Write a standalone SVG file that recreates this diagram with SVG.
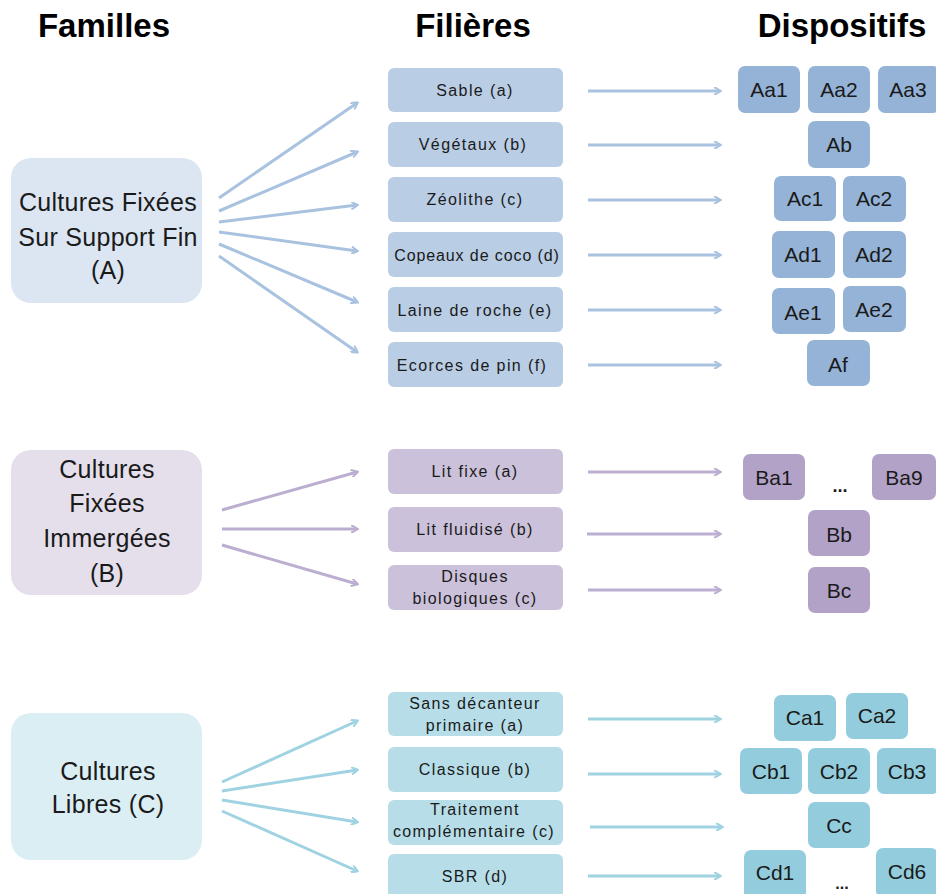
<svg xmlns="http://www.w3.org/2000/svg" width="936" height="894" viewBox="0 0 936 894">
<style>
text{font-family:"Liberation Sans",Arial,sans-serif;fill:#1a1a1a;text-anchor:middle}
.h{font-size:33px;font-weight:bold;fill:#000}
.fam{font-size:25px;letter-spacing:0.3px}
.fil{font-size:16px;letter-spacing:1.4px}
.dis{font-size:21px}
.fA{fill:#dce6f2}.fB{fill:#e5dfec}.fC{fill:#dbeef4}
.lA{fill:#b9cde5}.lB{fill:#ccc1da}.lC{fill:#b7dee8}
.dA{fill:#95b3d7}.dB{fill:#b3a2c7}.dC{fill:#93cddd}
.aA{stroke:#a9c2e0;stroke-width:3;fill:none;marker-end:url(#mA)}
.aB{stroke:#bcaed0;stroke-width:3;fill:none;marker-end:url(#mB)}
.aC{stroke:#9fd3e2;stroke-width:3;fill:none;marker-end:url(#mC)}
</style>
<defs>
<marker id="mA" markerWidth="8" markerHeight="8" refX="6" refY="4" orient="auto" markerUnits="userSpaceOnUse" viewBox="0 0 8 8"><path d="M0,0 L7,4 L0,8" fill="none" stroke="#a9c2e0" stroke-width="2"/></marker>
<marker id="mB" markerWidth="8" markerHeight="8" refX="6" refY="4" orient="auto" markerUnits="userSpaceOnUse" viewBox="0 0 8 8"><path d="M0,0 L7,4 L0,8" fill="none" stroke="#bcaed0" stroke-width="2"/></marker>
<marker id="mC" markerWidth="8" markerHeight="8" refX="6" refY="4" orient="auto" markerUnits="userSpaceOnUse" viewBox="0 0 8 8"><path d="M0,0 L7,4 L0,8" fill="none" stroke="#9fd3e2" stroke-width="2"/></marker>
</defs>
<rect width="936" height="894" fill="#fff"/>
<g id="headers">
<text class="h" x="104" y="37">Familles</text>
<text class="h" x="473" y="37">Filières</text>
<text class="h" x="842" y="37">Dispositifs</text>
</g>
<g id="connectors">
<line class="aA" x1="219" y1="198" x2="357" y2="103"/>
<line class="aA" x1="219" y1="211" x2="357" y2="152"/>
<line class="aA" x1="219" y1="222" x2="357" y2="205"/>
<line class="aA" x1="219" y1="232" x2="357" y2="251"/>
<line class="aA" x1="219" y1="244" x2="357" y2="302"/>
<line class="aA" x1="219" y1="256" x2="357" y2="352"/>
<line class="aA" x1="588" y1="91" x2="720" y2="91"/>
<line class="aA" x1="588" y1="145" x2="720" y2="145"/>
<line class="aA" x1="588" y1="200" x2="720" y2="200"/>
<line class="aA" x1="588" y1="255" x2="720" y2="255"/>
<line class="aA" x1="588" y1="310" x2="720" y2="310"/>
<line class="aA" x1="588" y1="365" x2="720" y2="365"/>
<line class="aB" x1="222" y1="510" x2="357" y2="472"/>
<line class="aB" x1="222" y1="529" x2="357" y2="529"/>
<line class="aB" x1="222" y1="545" x2="357" y2="584"/>
<line class="aB" x1="588" y1="472" x2="720" y2="472"/>
<line class="aB" x1="587" y1="534" x2="720" y2="534"/>
<line class="aB" x1="588" y1="590" x2="720" y2="590"/>
<line class="aC" x1="222" y1="782" x2="357" y2="721"/>
<line class="aC" x1="222" y1="791" x2="357" y2="770"/>
<line class="aC" x1="222" y1="800" x2="357" y2="822"/>
<line class="aC" x1="222" y1="811" x2="357" y2="871"/>
<line class="aC" x1="588" y1="719" x2="720" y2="719"/>
<line class="aC" x1="588" y1="774" x2="720" y2="774"/>
<line class="aC" x1="590" y1="827" x2="722" y2="827"/>
<line class="aC" x1="588" y1="876" x2="720" y2="876"/>
</g>
<g id="famA"><rect class="fA" x="11" y="158" width="191" height="145" rx="20"/>
<text class="fam" x="108" y="211">Cultures Fixées</text><text class="fam" x="108" y="246">Sur Support Fin</text><text class="fam" x="108" y="279">(A)</text></g>
<g id="famB"><rect class="fB" x="11" y="450" width="191" height="145" rx="20"/>
<text class="fam" x="107" y="478">Cultures</text><text class="fam" x="107" y="512">Fixées</text><text class="fam" x="107" y="547">Immergées</text><text class="fam" x="107" y="582">(B)</text></g>
<g id="famC"><rect class="fC" x="11" y="713" width="191" height="147" rx="20"/>
<text class="fam" x="108" y="780">Cultures</text><text class="fam" x="108" y="813">Libres (C)</text></g>

<g id="filAa"><rect class="lA" x="388" y="68" width="175" height="44" rx="6"/><text class="fil" x="475" y="96">Sable (a)</text></g>
<g id="filAb"><rect class="lA" x="388" y="122" width="175" height="45" rx="6"/><text class="fil" x="473" y="150">Végétaux (b)</text></g>
<g id="filAc"><rect class="lA" x="388" y="177" width="175" height="45" rx="6"/><text class="fil" x="475" y="205">Zéolithe (c)</text></g>
<g id="filAd"><rect class="lA" x="388" y="232" width="175" height="45" rx="6"/><text class="fil" x="477" y="261" style="letter-spacing:0.9px">Copeaux de coco (d)</text></g>
<g id="filAe"><rect class="lA" x="388" y="287" width="175" height="45" rx="6"/><text class="fil" x="475" y="316">Laine de roche (e)</text></g>
<g id="filAf"><rect class="lA" x="388" y="342" width="175" height="45" rx="6"/><text class="fil" x="472" y="371">Ecorces de pin (f)</text></g>

<g id="filBa"><rect class="lB" x="388" y="449" width="175" height="45" rx="6"/><text class="fil" x="475" y="477">Lit fixe (a)</text></g>
<g id="filBb"><rect class="lB" x="388" y="507" width="175" height="45" rx="6"/><text class="fil" x="475" y="535">Lit fluidisé (b)</text></g>
<g id="filBc"><rect class="lB" x="388" y="565" width="175" height="45" rx="6"/><text class="fil" x="475" y="582">Disques</text><text class="fil" x="475" y="604">biologiques (c)</text></g>

<g id="filCa"><rect class="lC" x="388" y="692" width="175" height="44" rx="6"/><text class="fil" x="475" y="709">Sans décanteur</text><text class="fil" x="475" y="731">primaire (a)</text></g>
<g id="filCb"><rect class="lC" x="388" y="747" width="175" height="45" rx="6"/><text class="fil" x="475" y="775">Classique (b)</text></g>
<g id="filCc"><rect class="lC" x="388" y="800" width="175" height="45" rx="6"/><text class="fil" x="475" y="815">Traitement</text><text class="fil" x="474" y="837">complémentaire (c)</text></g>
<g id="filCd"><rect class="lC" x="388" y="854" width="175" height="44" rx="6"/><text class="fil" x="475" y="882">SBR  (d)</text></g>

<g id="Aa1"><rect class="dA" x="738" y="66" width="62" height="47" rx="7"/><text class="dis" x="769" y="97">Aa1</text></g>
<g id="Aa2"><rect class="dA" x="808" y="66" width="62" height="47" rx="7"/><text class="dis" x="839" y="97">Aa2</text></g>
<g id="Aa3"><rect class="dA" x="878" y="66" width="62" height="47" rx="7"/><text class="dis" x="908" y="97">Aa3</text></g>
<g id="Ab"><rect class="dA" x="808" y="121" width="62" height="47" rx="7"/><text class="dis" x="839" y="152">Ab</text></g>
<g id="Ac1"><rect class="dA" x="774" y="176" width="62" height="45" rx="7"/><text class="dis" x="805" y="206">Ac1</text></g>
<g id="Ac2"><rect class="dA" x="843" y="176" width="63" height="46" rx="7"/><text class="dis" x="874" y="206">Ac2</text></g>
<g id="Ad1"><rect class="dA" x="772" y="231" width="63" height="47" rx="7"/><text class="dis" x="803" y="262">Ad1</text></g>
<g id="Ad2"><rect class="dA" x="843" y="231" width="63" height="47" rx="7"/><text class="dis" x="874" y="262">Ad2</text></g>
<g id="Ae1"><rect class="dA" x="772" y="288" width="63" height="46" rx="7"/><text class="dis" x="803" y="320">Ae1</text></g>
<g id="Ae2"><rect class="dA" x="843" y="286" width="63" height="46" rx="7"/><text class="dis" x="874" y="317">Ae2</text></g>
<g id="Af"><rect class="dA" x="807" y="340" width="63" height="46" rx="7"/><text class="dis" x="838" y="372">Af</text></g>

<g id="Ba1"><rect class="dB" x="743" y="454" width="62" height="46" rx="7"/><text class="dis" x="774" y="485">Ba1</text></g>
<g id="Badots"><text class="dis" x="840" y="492" style="font-size:18px;font-weight:bold">...</text></g>
<g id="Ba9"><rect class="dB" x="872" y="454" width="64" height="46" rx="7"/><text class="dis" x="904" y="485">Ba9</text></g>
<g id="Bb"><rect class="dB" x="808" y="510" width="62" height="46" rx="7"/><text class="dis" x="839" y="542">Bb</text></g>
<g id="Bc"><rect class="dB" x="808" y="567" width="62" height="46" rx="7"/><text class="dis" x="839" y="598">Bc</text></g>

<g id="Ca1"><rect class="dC" x="774" y="695" width="62" height="46" rx="7"/><text class="dis" x="805" y="725">Ca1</text></g>
<g id="Ca2"><rect class="dC" x="846" y="693" width="62" height="46" rx="7"/><text class="dis" x="877" y="723">Ca2</text></g>
<g id="Cb1"><rect class="dC" x="740" y="748" width="62" height="46" rx="7"/><text class="dis" x="771" y="779">Cb1</text></g>
<g id="Cb2"><rect class="dC" x="808" y="748" width="62" height="46" rx="7"/><text class="dis" x="839" y="779">Cb2</text></g>
<g id="Cb3"><rect class="dC" x="877" y="748" width="62" height="46" rx="7"/><text class="dis" x="907" y="779">Cb3</text></g>
<g id="Cc"><rect class="dC" x="808" y="802" width="62" height="46" rx="7"/><text class="dis" x="839" y="833">Cc</text></g>
<g id="Cd1"><rect class="dC" x="744" y="850" width="62" height="50" rx="7"/><text class="dis" x="775" y="880">Cd1</text></g>
<g id="Cddots"><text class="dis" x="842" y="889" style="font-size:16px;font-weight:bold">...</text></g>
<g id="Cd6"><rect class="dC" x="876" y="848" width="62" height="50" rx="7"/><text class="dis" x="907" y="879">Cd6</text></g>
</svg>
